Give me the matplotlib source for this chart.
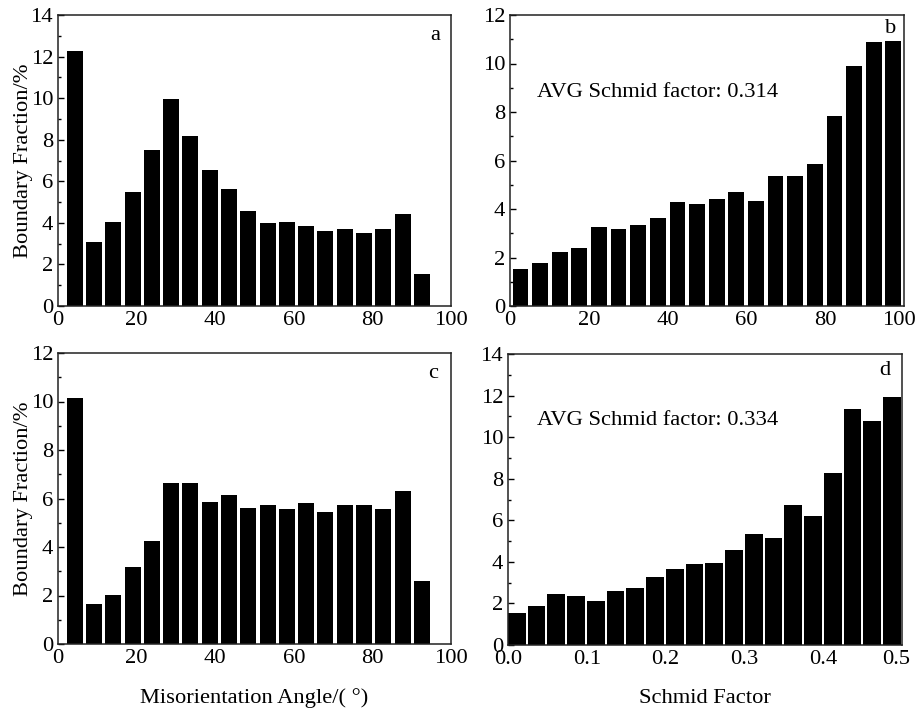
import numpy as np
import matplotlib
matplotlib.use("Agg")
import matplotlib.pyplot as plt
from matplotlib.ticker import MultipleLocator, FormatStrFormatter
from matplotlib.transforms import ScaledTranslation

plt.rcParams['font.family'] = ['Liberation Serif', 'DejaVu Serif']

# ---- data ----
angle_bins = np.linspace(4.25, 92.6, 19)
frac_a = [12.27, 3.09, 4.02, 5.50, 7.52, 9.94, 8.18, 6.54, 5.63, 4.57,
          3.98, 4.06, 3.83, 3.61, 3.70, 3.53, 3.69, 4.44, 1.54]
frac_c = [10.14, 1.64, 2.02, 3.18, 4.24, 6.63, 6.63, 5.86, 6.16, 5.61,
          5.72, 5.56, 5.81, 5.46, 5.72, 5.75, 5.56, 6.32, 2.59]

schmid_pct_bins = np.linspace(2.65, 97.3, 20)
frac_b = [1.54, 1.77, 2.21, 2.38, 3.24, 3.18, 3.33, 3.63, 4.29, 4.22,
          4.40, 4.71, 4.32, 5.37, 5.36, 5.87, 7.85, 9.91, 10.87, 10.94]

schmid_bins = np.linspace(0.0112, 0.4873, 20)
frac_d = [1.52, 1.88, 2.44, 2.37, 2.10, 2.61, 2.73, 3.26, 3.64, 3.88,
          3.96, 4.57, 5.34, 5.13, 6.74, 6.19, 8.26, 11.34, 10.76, 11.95]

panel_letters = ['a', 'b', 'c', 'd']
avg_texts = ['AVG Schmid factor: 0.314', 'AVG Schmid factor: 0.334']
ylabel = 'Boundary Fraction/%'
xlabel_c = 'Misorientation Angle/( °)'
xlabel_d = 'Schmid Factor'

FS = 16.2

fig = plt.figure(figsize=(9.19, 7.11), dpi=100)
W, H = 919, 711

def mk_ax(l, r, t, b):
    return fig.add_axes([l / W, 1 - b / H, (r - l) / W, (b - t) / H])

ax_a = mk_ax(58, 451, 15, 306)
ax_b = mk_ax(510, 904, 15, 306)
ax_c = mk_ax(58, 451, 353, 644)
ax_d = mk_ax(508, 902, 354, 645)

ax_a.bar(angle_bins, frac_a, width=4.07, color='black', linewidth=0)
ax_c.bar(angle_bins, frac_c, width=4.07, color='black', linewidth=0)
ax_b.bar(schmid_pct_bins, frac_b, width=4.0, color='black', linewidth=0)
ax_d.bar(schmid_bins, frac_d, width=0.0225, color='black', linewidth=0)

for ax, xmax, xstep, ymax in [(ax_a, 100, 20, 14), (ax_b, 100, 20, 12),
                              (ax_c, 100, 20, 12), (ax_d, 0.5, 0.1, 14)]:
    ax.set_xlim(0, xmax)
    ax.set_ylim(0, ymax)
    ax.xaxis.set_major_locator(MultipleLocator(xstep))
    ax.yaxis.set_major_locator(MultipleLocator(2))
    ax.yaxis.set_minor_locator(MultipleLocator(1))
    ax.tick_params(axis='y', which='major', direction='in', length=4, width=1,
                   labelsize=FS, pad=3.5)
    ax.tick_params(axis='y', which='minor', direction='in', length=2.5, width=1)
    ax.tick_params(axis='x', which='both', length=0, labelsize=FS, pad=3.7)
    for s in ax.spines.values():
        s.set_linewidth(1.1)
        s.set_color('#222222')

ax_d.xaxis.set_major_formatter(FormatStrFormatter('%.1f'))

for ax in (ax_a, ax_c):
    ax.set_ylabel(ylabel, fontsize=FS)
    ax.yaxis.set_label_coords(-0.064, 0.5)

ax_c.set_xlabel(xlabel_c, fontsize=FS)
ax_c.xaxis.set_label_coords(0.5, -0.152)
ax_d.set_xlabel(xlabel_d, fontsize=FS)
ax_d.xaxis.set_label_coords(0.5, -0.152)

letter_pos = [(0.959, 0.931), (0.967, 0.952), (0.954, 0.931), (0.957, 0.945)]
for ax, letter, (x, y) in zip((ax_a, ax_b, ax_c, ax_d), panel_letters, letter_pos):
    ax.text(x, y, letter, transform=ax.transAxes, ha='center', va='center', fontsize=FS)

ax_b.text(0.0685, 0.732, avg_texts[0], transform=ax_b.transAxes, ha='left', va='center', fontsize=FS)
ax_d.text(0.0736, 0.770, avg_texts[1], transform=ax_d.transAxes, ha='left', va='center', fontsize=FS)

# nudge the right-most tick label of the right-hand panels inward (as in the original)
fig.canvas.draw()
for ax in (ax_b, ax_d):
    lab = ax.xaxis.get_major_ticks()[-1].label1
    ticks = [t for t in ax.xaxis.get_major_ticks() if t.label1.get_text() in ('100', '0.5')]
    for t in ticks:
        t.label1.set_transform(t.label1.get_transform() +
                               ScaledTranslation(-4 / 72, 0, fig.dpi_scale_trans))

fig.savefig('out.png', dpi=100)
